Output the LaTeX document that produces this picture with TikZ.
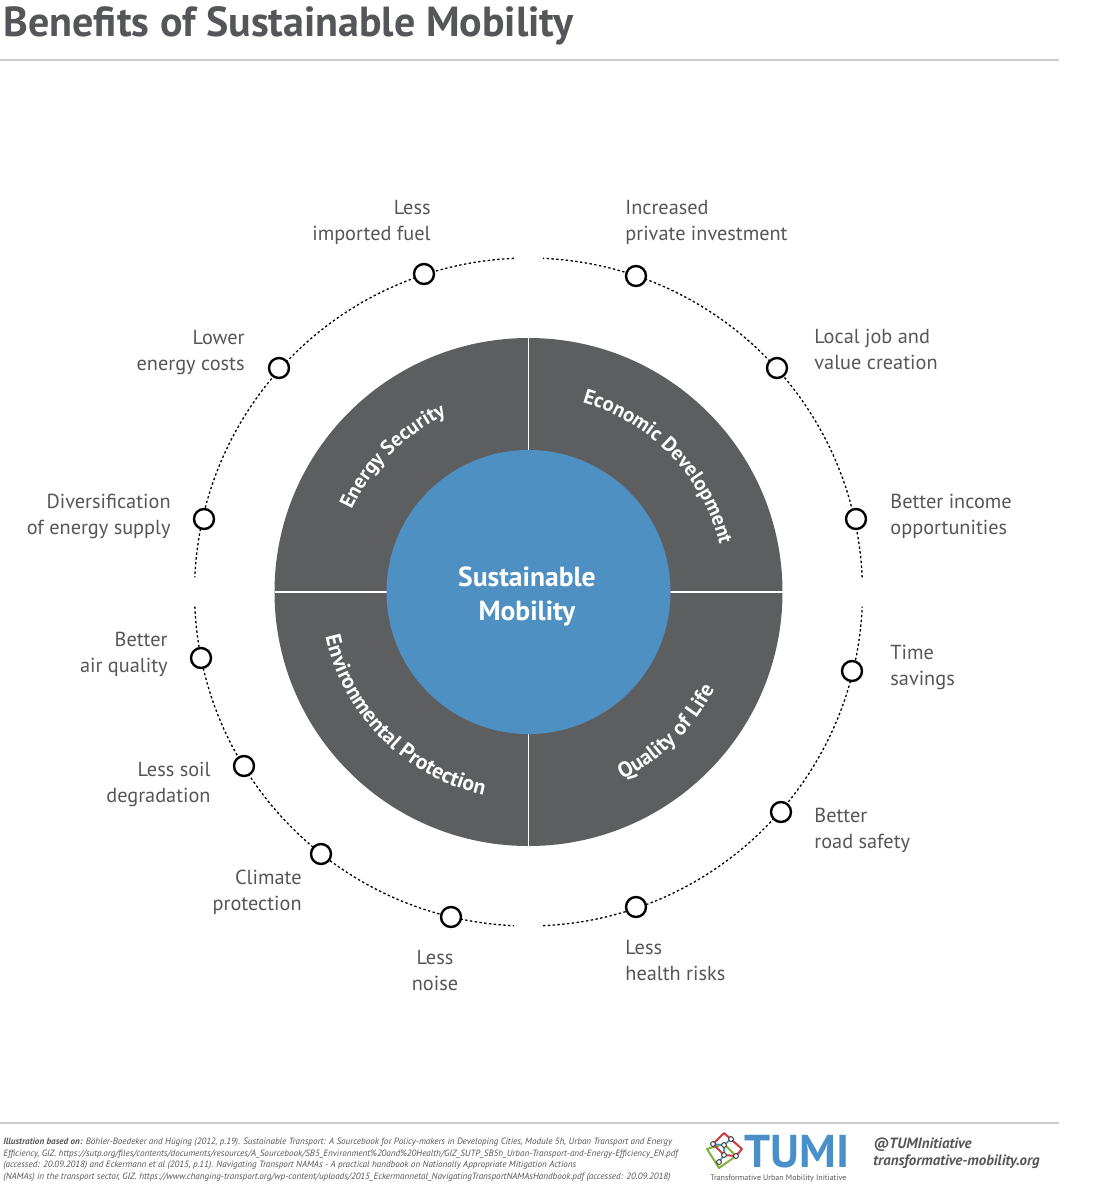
\documentclass[tikz,border=0pt]{standalone}
\usepackage{fontspec}
\setmainfont{PT Sans}
\usetikzlibrary{decorations.text,calc}
\definecolor{wheelgrey}{HTML}{5D5E60}
\definecolor{wheelblue}{HTML}{4F90C2}
\definecolor{inkgrey}{HTML}{55565A}
\definecolor{rulegrey}{HTML}{CCCCCC}
\definecolor{logoblue}{HTML}{4A90C8}
\definecolor{logored}{HTML}{D0393B}
\definecolor{logogreen}{HTML}{7FB13F}
\newcommand{\seclabfont}{\color{white}\bfseries\fontsize{10.8}{13}\selectfont}
\newcommand{\seclabtop}{\color{white}\bfseries\fontsize{10.3}{13}\selectfont}
\tikzset{
  lab/.style={font=\fontsize{10.15}{13}\selectfont,text=inkgrey,inner sep=0pt},
  labl/.style={lab,anchor=north west,align=left},
  labr/.style={lab,anchor=north east,align=right},
  marker/.style={circle,draw=black,line width=1.2pt,fill=white,minimum size=10pt,inner sep=0pt},
  ring/.style={black,line width=0.65pt,dash pattern=on 1.2pt off 1.2pt},
  lnode/.style={circle,fill=white,draw=black!80,line width=.45pt,minimum size=2.4pt,inner sep=0pt},
}
\begin{document}
\begin{tikzpicture}[x=0.5pt,y=-0.5pt]
\useasboundingbox (0,0) rectangle (1097,1200);
\fill[white] (0,0) rectangle (1097,1200);
\node[anchor=base west,inner sep=0pt,text=inkgrey,font=\bfseries\fontsize{21}{24}\selectfont] (title) at (3,36) {Benefits of Sustainable Mobility};
\coordinate (r1a) at (0,60); \coordinate (r1b) at (1059,60);
\draw[rulegrey,line width=.6pt] (r1a) -- (r1b);
\coordinate (c) at (528.5,592);
% wheel
\fill[wheelgrey] (c) circle [radius=127pt];
\draw[white,line width=.7pt] ($(c)+(-254,0)$) -- ($(c)+(254,0)$);
\draw[white,line width=.7pt] ($(c)+(0,-254)$) -- ($(c)+(0,254)$);
\node[circle,fill=wheelblue,minimum size=142pt,inner sep=0pt] (hub) at (c) {};
\node[align=center,text=white,inner sep=0pt,font=\bfseries\fontsize{13.8}{17}\selectfont] (hubtext) at (527,596) {Sustainable\\Mobility};
% ring
\foreach \a/\b in {2.5/87.5,92.5/177.5,182.5/267.5,272.5/357.5}{
  \draw[ring] ($(c)+({334*cos(\a)},{-334*sin(\a)})$) arc [start angle=\a,end angle=\b,radius=167pt];
}
% markers
\foreach \n/\x/\y in {m1/424/274,m2/279/368,m3/204/519,m4/201/658,m5/244/766,m6/321/854,m7/451/917,m8/636/907,m9/781/812,m10/852/671,m11/856/519,m12/777/368,m13/636/276}{
  \node[marker] (\n) at (\x,\y) {};
}
% labels
\node[labr] (l1) at (431,199.5) {Less\\imported fuel};
\node[labr] (l2) at (245,329.5) {Lower\\energy costs};
\node[labr] (l3) at (171,493.5) {Diversification\\of energy supply};
\node[labr] (l4) at (168,632) {Better\\air quality};
\node[labr] (l5) at (211,761.5) {Less soil\\degradation};
\node[labr] (l6) at (302,869.5) {Climate\\protection};
\node[anchor=north,lab,align=center] (l7) at (435,949.5) {Less\\noise};
\node[labl] (l8) at (625,940) {Less\\health risks};
\node[labl] (l9) at (814,808) {Better\\road safety};
\node[labl] (l10) at (890,645) {Time\\savings};
\node[labl] (l11) at (890,493.5) {Better income\\opportunities};
\node[labl] (l12) at (814,329) {Local job and\\value creation};
\node[labl] (l13) at (625,199.5) {Increased\\private investment};
% sector captions, set along arcs
\path[decorate,decoration={text along path,text align=center,text={|\seclabtop|Energy Security}}]
  ($(c)+({195*cos(170)},{-195*sin(170)})$) arc [start angle=170,end angle=100,radius=97.5pt];
\path[decorate,decoration={text along path,text align=center,text={|\seclabtop|Economic Development}}]
  ($(c)+({197*cos(94)},{-197*sin(94)})$) arc [start angle=94,end angle=-6,radius=98.5pt];
\path[decorate,decoration={text along path,text align=center,text={|\seclabfont|Quality of Life}}]
  ($(c)+({210*cos(-85)},{-210*sin(-85)})$) arc [start angle=-85,end angle=-6,radius=105pt];
\path[decorate,decoration={text along path,text align=center,text={|\seclabfont|Environmental Protection}}]
  ($(c)+({208*cos(175)},{-208*sin(175)})$) arc [start angle=175,end angle=275,radius=104pt];
% footer
\coordinate (r2a) at (0,1123); \coordinate (r2b) at (1059,1123);
\draw[rulegrey,line width=.6pt] (r2a) -- (r2b);
\node[anchor=north west,inner sep=0pt,align=left,text=inkgrey,font=\itshape\fontsize{4.55}{5.85}\selectfont] (foot) at (3,1137.5) {\textbf{Illustration based on:} Böhler-Boedeker and Hüging (2012, p.19). Sustainable Transport: A Sourcebook for Policy-makers in Developing Cities, Module 5h, Urban Transport and Energy\\Efficiency, GIZ. https://sutp.org/files/contents/documents/resources/A\_Sourcebook/SB5\_Environment\%20and\%20Health/GIZ\_SUTP\_SB5h\_Urban-Transport-and-Energy-Efficiency\_EN.pdf\\(accessed: 20.09.2018) and Eckermann et al (2015, p.11). Navigating Transport NAMAs - A practical handbook on Nationally Appropriate Mitigation Actions\\(NAMAs) in the transport sector, GIZ. https://www.changing-transport.org/wp-content/uploads/2015\_Eckermannetal\_NavigatingTransportNAMAsHandbook.pdf (accessed: 20.09.2018)};
% logo
\draw[logogreen,line width=1pt,line join=round] (707,1149) -- (724,1144) -- (736,1156) -- (719,1168) -- cycle;
\draw[logored,line width=1pt,line join=round] (724,1133) -- (742,1149) -- (736,1156) -- (724,1155) -- (713,1144) -- cycle;
\draw[logoblue,line width=.8pt] (713,1144) -- (724,1145) -- (724,1155) -- (719,1162) (731,1139) -- (724,1145);
\foreach \n/\x/\y in {q1/713/1144,q2/731/1139,q3/724/1145,q4/736/1156,q5/724/1155,q6/719/1162}{\node[lnode] (\n) at (\x,\y) {};}
\node[anchor=base west,inner sep=0pt,text=logoblue,font=\bfseries\fontsize{23}{24}\selectfont] (tumi) at (744,1167) {TUMI};
\node[anchor=base west,inner sep=0pt,text=inkgrey,font=\fontsize{4}{5}\selectfont] (sub) at (710,1180) {Transformative Urban Mobility Initiative};
\node[anchor=north west,inner sep=0pt,align=left,text=inkgrey,font=\bfseries\itshape\fontsize{7.45}{8.6}\selectfont] (hand) at (873,1137) {@TUMInitiative\\transformative-mobility.org};
\end{tikzpicture}
\end{document}
